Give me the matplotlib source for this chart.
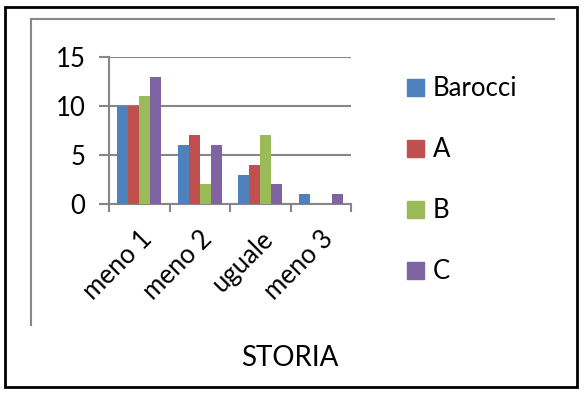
import matplotlib.pyplot as plt
from matplotlib.lines import Line2D
from matplotlib.patches import Rectangle
import numpy as np

categories = ["meno 1", "meno 2", "uguale", "meno 3"]
series = ["Barocci", "A", "B", "C"]
barocci = [10, 6, 3, 1]
a_vals = [10, 7, 4, 0]
b_vals = [11, 2, 7, 0]
c_vals = [13, 6, 2, 1]
colors = ["#4F81BD", "#C0504D", "#9BBB59", "#8064A2"]

W, H = 584, 394
plt.rcParams['font.family'] = ['Lato', 'DejaVu Sans']

fig = plt.figure(figsize=(W / 100, H / 100), dpi=100)


def fx(px):
    return px / W


def fy(py):
    return 1 - py / H


# axes placed in pixel terms
ax = fig.add_axes([fx(109), fy(204), fx(351) - fx(109), fy(57) - fy(204)])

x = np.arange(len(categories))
bw = 0.18
for i, (vals, name) in enumerate(zip([barocci, a_vals, b_vals, c_vals], series)):
    ax.bar(x + (i - 1.5) * bw, vals, bw, color=colors[i], label=name, zorder=3)

ax.set_xlim(-0.5, 3.5)
ax.set_ylim(0, 15)
ax.set_yticks([0, 5, 10, 15])
ax.yaxis.grid(True, color="#868686", linewidth=1.5, zorder=0)
for s in ["top", "right"]:
    ax.spines[s].set_visible(False)
for s in ["left", "bottom"]:
    ax.spines[s].set_color("#868686")
    ax.spines[s].set_linewidth(1.5)
ax.tick_params(axis="y", length=7, width=1.5, color="#868686", labelsize=18.5, pad=10)

ax.set_xticks(x)
ax.set_xticklabels(categories, rotation=45, ha="right", rotation_mode="anchor", fontsize=18.5)
ax.tick_params(axis="x", which="major", length=0, pad=16)
ax.set_xticks(np.arange(-0.5, 4, 1), minor=True)
ax.tick_params(axis="x", which="minor", length=6, width=1.5, color="#868686")

handles = [Rectangle((0, 0), 1, 1, color=c) for c in colors]
fig.legend(handles, series, loc="upper left", bbox_to_anchor=(fx(397), fy(66)),
           frameon=False, fontsize=18.5, handlelength=0.65, handleheight=0.65,
           handletextpad=0.35, labelspacing=1.4, borderaxespad=0)

fig.text(fx(290), fy(358), "STORIA", ha="center", va="center", fontsize=20)

# pieces of the chart frame
fig.add_artist(Line2D([fx(31), fx(554)], [fy(19), fy(19)], color="#888888", linewidth=1.5))
fig.add_artist(Line2D([fx(31), fx(31)], [fy(19), fy(325)], color="#888888", linewidth=1.5))
fig.add_artist(Rectangle((fx(5), fy(387)), fx(577) - fx(5), fy(7) - fy(387),
                         fill=False, edgecolor="black", linewidth=2))

fig.savefig("out.png", dpi=100)
